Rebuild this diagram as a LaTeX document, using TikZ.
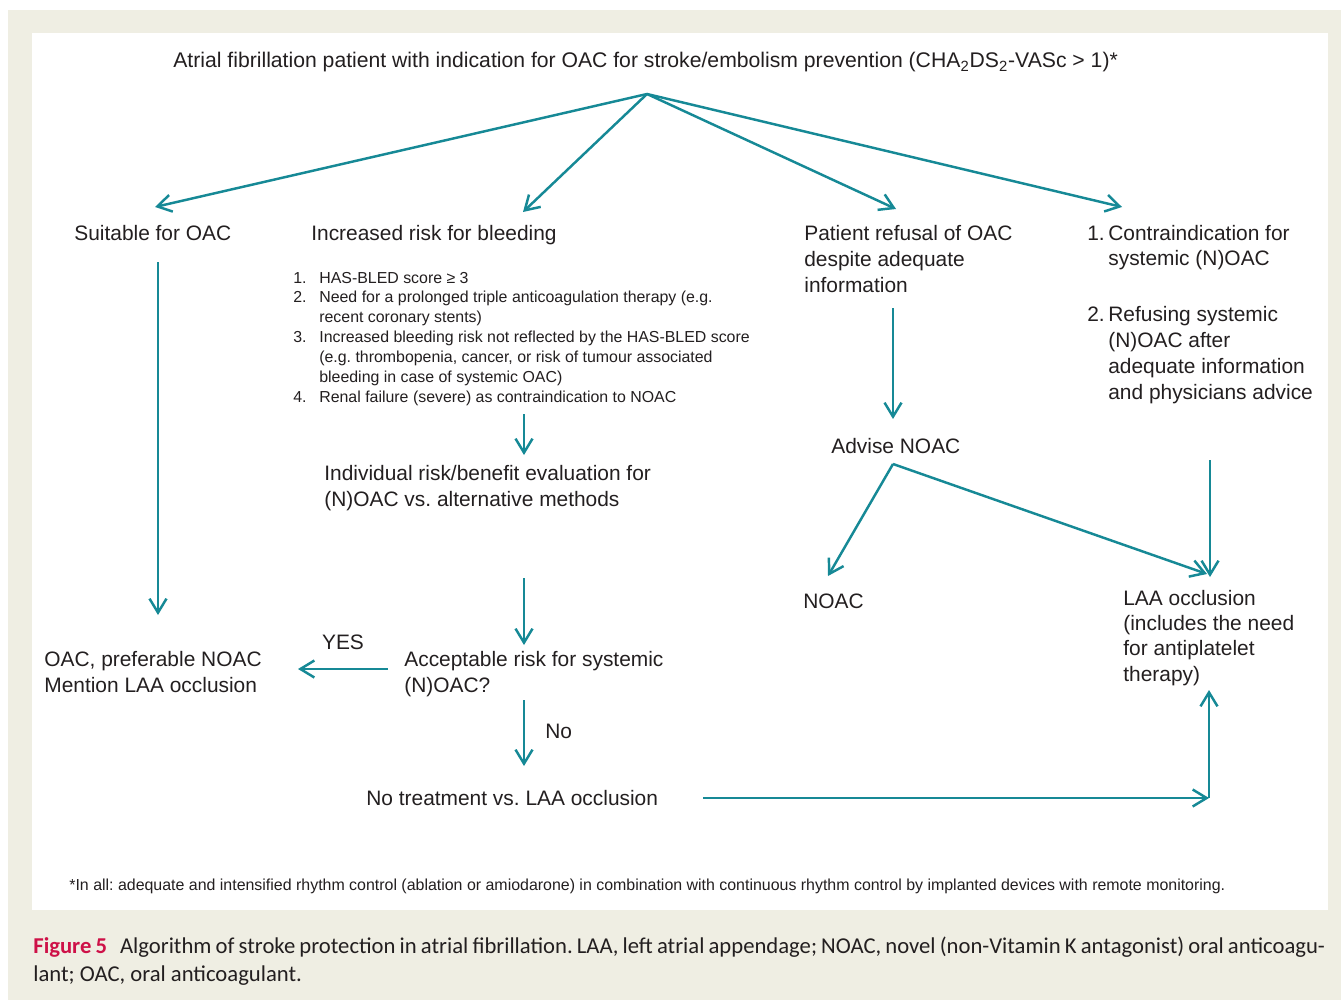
\documentclass[tikz,border=0pt]{standalone}
\usepackage{fontspec}
\setmainfont{Liberation Sans}
\newfontfamily\capfont{Carlito}
\usetikzlibrary{arrows.meta}
\definecolor{flowteal}{RGB}{22,137,150}
\definecolor{inkgray}{RGB}{35,31,32}
\definecolor{pagebeige}{RGB}{239,238,227}
\definecolor{figred}{RGB}{206,17,72}
\frenchspacing
\begin{document}
\begin{tikzpicture}[x=0.02cm, y=-0.02cm,
    txt/.style={anchor=base west, inner sep=0pt, align=left, text=inkgray,
      font=\fontsize{11.9}{14.7}\selectfont},
    small/.style={txt, font=\fontsize{9.05}{11.3}\selectfont},
    flow/.style={draw=flowteal, line width=1.4pt,
      -{Straight Barb[length=0.28cm, width=0.34cm]}}]
  \useasboundingbox (0,0) rectangle (1341,1000);
  \fill[pagebeige] (8,10) rectangle (1341,1000);
  \fill[white] (32,33) rectangle (1328,910);

  % multi-line nodes sit on the baseline of their last line
  \node[txt, font=\fontsize{12.05}{14.7}\selectfont] (title) at (173,68) {Atrial fibrillation patient with indication for OAC for stroke/embolism prevention (CHA\textsubscript{2}DS\textsubscript{2}-VASc > 1)*};
  \node[txt] (suit) at (74,240) {Suitable for OAC};
  \node[txt] (bleed) at (311,240) {Increased risk for bleeding};
  \node[small] (crit) at (293,283) {\begin{tabular}[t]{@{}p{0.52cm}@{}l@{}}
      1. & HAS-BLED score ≥ 3\\
      2. & Need for a prolonged triple anticoagulation therapy (e.g.\\
         & recent coronary stents)\\
      3. & Increased bleeding risk not reflected by the HAS-BLED score\\
         & (e.g. thrombopenia, cancer, or risk of tumour associated\\
         & bleeding in case of systemic OAC)\\
      4. & Renal failure (severe) as contraindication to NOAC
    \end{tabular}};
  \node[txt] (indiv) at (324,506) {Individual risk/benefit evaluation for\\(N)OAC vs. alternative methods};
  \node[txt] (accept) at (404,692) {Acceptable risk for systemic\\(N)OAC?};
  \node[txt] (oacpref) at (44,692) {OAC, preferable NOAC\\Mention LAA occlusion};
  \node[txt, anchor=base] (yes) at (343,649) {YES};
  \node[txt] (no) at (545,738) {No};
  \node[txt] (notreat) at (366,805) {No treatment vs. LAA occlusion};
  \node[txt] (refuse) at (804,292) {Patient refusal of OAC\\despite adequate\\information};
  \node[txt] (advise) at (831,453) {Advise NOAC};
  \node[txt] (noac) at (803,608) {NOAC};
  \node[txt] (contra) at (1087,240) {\begin{tabular}[t]{@{}p{0.42cm}@{}l@{}}
      1. & Contraindication for\\
         & systemic (N)OAC\\[17pt]
      2. & Refusing systemic\\
         & (N)OAC after\\
         & adequate information\\
         & and physicians advice
    \end{tabular}};
  \node[txt, font=\fontsize{11.9}{14.4}\selectfont] (laa) at (1123,681) {LAA occlusion\\(includes the need\\for antiplatelet\\therapy)};
  \node[txt, font=\fontsize{9.07}{10}\selectfont] (note) at (69,890) {*In all: adequate and intensified rhythm control (ablation or amiodarone) in combination with continuous rhythm control by implanted devices with remote monitoring.};
  \node[anchor=base west, inner sep=0pt, align=left, text=inkgray,
    font=\capfont\fontsize{12.9}{15.9}\selectfont] (caption) at (33,981)
    {\makebox[25.84cm][s]{\textcolor{figred}{\bfseries Figure 5}\hspace{0.26cm}Algorithm of stroke protection in atrial fibrillation. LAA, left atrial appendage; NOAC, novel (non-Vitamin K antagonist) oral anticoagu-}\\lant; OAC, oral anticoagulant.};

  \coordinate (split) at (647,94);
  \coordinate (suit-in) at (155,207);
  \coordinate (bleed-in) at (523,212);
  \coordinate (refuse-in) at (896,209);
  \coordinate (contra-in) at (1122,207);
  \coordinate (suit-out) at (158,262);
  \coordinate (oacpref-in) at (158,615);
  \coordinate (crit-out) at (524,414);
  \coordinate (indiv-in) at (524,455);
  \coordinate (indiv-out) at (524,578);
  \coordinate (accept-in) at (524,645);
  \coordinate (yes-out) at (388,669);
  \coordinate (yes-in) at (298,669);
  \coordinate (no-out) at (524,700);
  \coordinate (notreat-in) at (524,766);
  \coordinate (notreat-out) at (703,798);
  \coordinate (corner) at (1209,798);
  \coordinate (laa-below) at (1209,690);
  \coordinate (refuse-out) at (893,308);
  \coordinate (advise-in) at (893,419);
  \coordinate (advise-out) at (893,464);
  \coordinate (noac-in) at (828,576);
  \coordinate (laa-in) at (1207,574);
  \coordinate (contra-out) at (1210,460);
  \coordinate (laa-top) at (1210,577);

  \begin{scope}[flow]
    \draw (split) to (suit-in);
    \draw (split) to (bleed-in);
    \draw (split) to (refuse-in);
    \draw (split) to (contra-in);
    \draw (suit-out) to (oacpref-in);
    \draw (crit-out) to (indiv-in);
    \draw (indiv-out) to (accept-in);
    \draw (yes-out) to (yes-in);
    \draw (no-out) to (notreat-in);
    \draw (notreat-out) to (corner);
    \draw (corner) to (laa-below);
    \draw (refuse-out) to (advise-in);
    \draw (advise-out) to (noac-in);
    \draw (advise-out) to (laa-in);
    \draw (contra-out) to (laa-top);
  \end{scope}
\end{tikzpicture}
\end{document}
